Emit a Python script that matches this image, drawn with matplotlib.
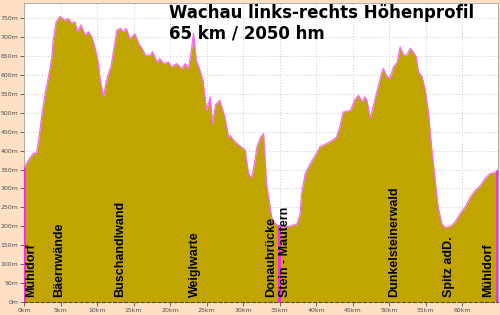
import matplotlib
matplotlib.use("Agg")
import matplotlib.pyplot as plt

# profile: distance (km) and altitude (m)
km = [0.0, 0.8, 1.3, 1.7, 2.0, 2.4, 2.9, 3.3, 3.8, 4.0, 4.4, 4.9, 5.6, 6.1, 6.5,
      7.0, 7.3, 7.8, 8.4, 8.8, 9.3, 9.7, 10.2, 10.4, 10.9, 11.2, 11.7, 11.9, 12.2,
      12.7, 13.2, 13.6, 14.0, 14.5, 15.0, 15.2, 15.7, 16.3, 16.6, 17.3, 17.6,
      18.2, 18.6, 19.1, 19.8, 20.2, 20.9, 21.6, 22.1, 22.5, 22.8, 23.2, 23.6,
      24.1, 24.5, 25.0, 25.5, 25.8, 26.2, 26.8, 27.5, 28.0, 28.2, 28.9, 29.6,
      30.3, 30.7, 31.1, 31.4, 31.9, 32.4, 32.8, 33.0, 33.2, 33.7, 33.9, 34.4,
      34.8, 35.3, 36.4, 37.4, 37.8, 38.0, 38.5, 39.2, 39.9, 40.5, 41.5, 42.2,
      42.8, 43.3, 43.7, 44.7, 45.3, 45.8, 46.3, 46.7, 47.0, 47.4, 47.8, 48.3,
      49.0, 49.2, 49.7, 50.1, 50.6, 51.1, 51.5, 52.0, 52.4, 52.9, 53.3, 53.7,
      54.0, 54.5, 54.9, 55.4, 55.8, 56.3, 56.7, 57.2, 57.7, 58.4, 59.0, 59.7,
      60.4, 61.1, 61.8, 62.5, 63.1, 63.8, 64.5, 64.9]
alt = [356, 380, 393, 393, 427, 488, 551, 591, 644, 692, 740, 754, 745, 749, 737,
       740, 714, 732, 705, 714, 700, 674, 630, 591, 542, 578, 612, 621, 657,
       718, 723, 714, 723, 695, 705, 708, 683, 665, 652, 652, 661,
       634, 643, 630, 634, 621, 630, 617, 630, 617, 648, 710, 639,
       612, 586, 507, 542, 472, 520, 533, 489, 436, 440, 423, 412,
       401, 343, 326, 348, 410, 436, 445, 383, 313, 251, 224, 207,
       202, 198, 200, 207, 233, 286, 339, 366, 388, 410, 419, 427,
       436, 467, 502, 506, 535, 546, 529, 542, 529, 485, 516, 555,
       608, 617, 595, 591, 621, 634, 674, 652, 652, 670, 661, 648,
       608, 595, 564, 498, 410, 321, 251, 207, 196, 200, 211, 233,
       251, 277, 295, 308, 326, 339, 343, 348]

# place names along the route
places = ["Mühldorf", "Bäernwände", "Buschandlwand", "Weiglwarte", "Donaubrücke",
          "Stein - Mautern", "Dunkelsteinerwald", "Spitz adD.", "Mühldorf"]
place_km = [1.0, 4.8, 13.1, 23.4, 33.8, 35.8, 50.7, 58.2, 63.6]

# magenta markers: start, river crossing, finish
mark_km = [0.0, 34.9, 64.8]
mark_alt = [356, 203, 348]

x_ticks = list(range(0, 65, 5))
y_ticks = list(range(0, 800, 50))

peach = "#FFE0C4"
olive = "#C0A500"
pink = "#FF22FF"

fig = plt.figure(figsize=(5, 3.15), dpi=100, facecolor=peach)
ax = fig.add_axes([24 / 500, 1 - 302 / 315, 474 / 500, 299 / 315])
ax.set_facecolor("white")

ax.fill_between(km, alt, 0, color=olive, lw=0, zorder=2)
ax.plot(km, alt, color="#FF66FF", lw=0.9, zorder=3)
ax.vlines(mark_km, 0, mark_alt, color=pink, lw=2, zorder=4)

for name, x in zip(places, place_km):
    ax.text(x, 14, name, rotation=90, ha="center", va="bottom",
            fontsize=9, fontweight="bold", family="Liberation Sans", zorder=5)

ax.text(0.306, 0.998, "Wachau links-rechts Höhenprofil\n65 km / 2050 hm",
        transform=ax.transAxes, ha="left", va="top", fontsize=12,
        fontweight="bold", linespacing=1.2, zorder=5)

ax.set_xlim(0, 64.9)
ax.set_ylim(0, 790)
ax.set_xticks(x_ticks)
ax.set_xticklabels([f"{t}km" for t in x_ticks])
ax.set_yticks(y_ticks)
ax.set_yticklabels([f"{t}m" for t in y_ticks])
ax.tick_params(labelsize=4.5, colors="#505050", length=3, width=0.6, pad=1)

ax.grid(True, color="#C8C8C8", linestyle=(0, (1, 2)), lw=0.7)
ax.set_axisbelow(True)

ax.spines["bottom"].set_linestyle((0, (3, 2)))
ax.spines["bottom"].set_color("#505030")
ax.spines["bottom"].set_linewidth(0.8)
ax.spines["bottom"].set_zorder(6)
for s in ["top", "right", "left"]:
    ax.spines[s].set_color("#A0A0A0")
    ax.spines[s].set_linewidth(0.6)

fig.savefig("out.png", dpi=100, facecolor=peach)
